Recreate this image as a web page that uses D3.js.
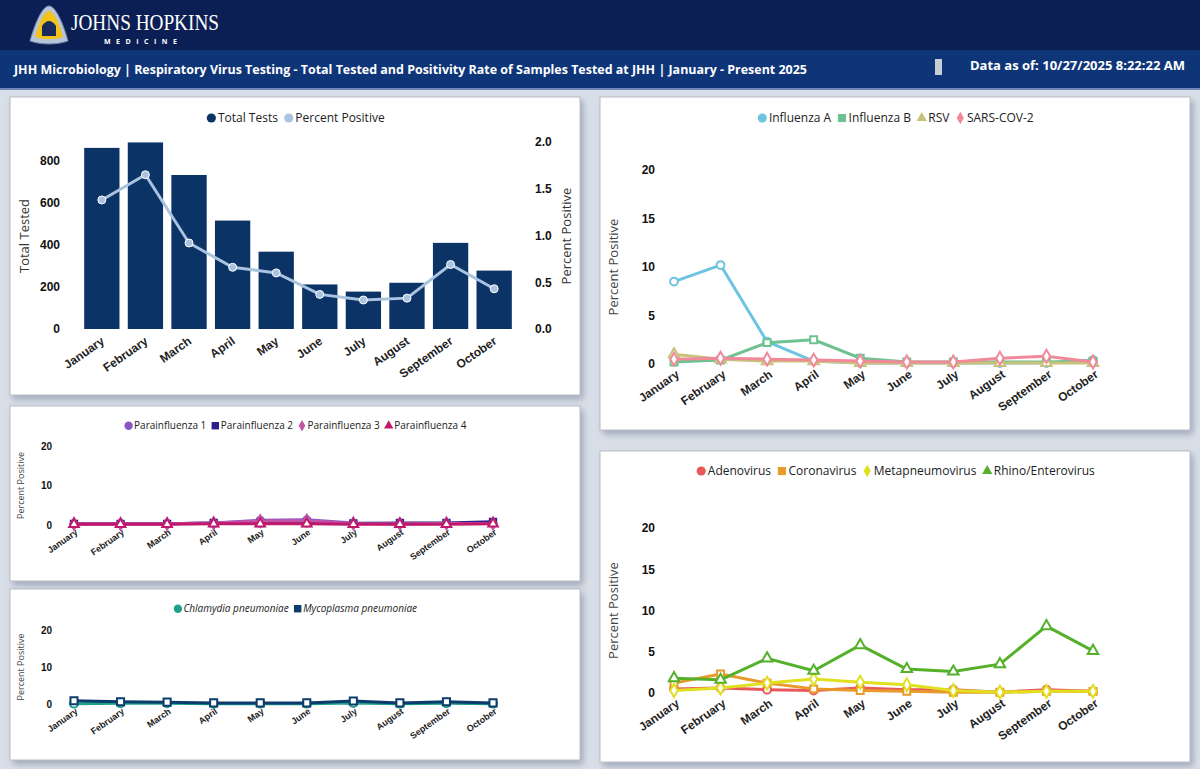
<!DOCTYPE html>
<html><head><meta charset="utf-8">
<script src="https://cdn.jsdelivr.net/npm/d3@7"></script>
<style>body{margin:0;background:#d9dfe8;font-family:"Open Sans",Calibri,sans-serif}svg{display:block}</style>
</head><body><svg id="c" width="1200" height="769"></svg>
<script>
const months=["January","February","March","April","May","June","July","August","September","October"];
const totalTests=[862,888,733,516,368,212,178,220,410,278];
const percentPositive=[1.38,1.65,0.92,0.66,0.60,0.37,0.31,0.33,0.69,0.43];
const fluA=[8.5,10.2,2.3,0.3,0.1,0.1,0.1,0.1,0.1,0.4];
const fluB=[0.2,0.4,2.2,2.5,0.6,0.2,0.2,0.2,0.2,0.3];
const rsv=[1.0,0.5,0.3,0.3,0.1,0.1,0.1,0.1,0.1,0.1];
const sars=[0.5,0.6,0.5,0.4,0.3,0.2,0.2,0.6,0.8,0.2];
const para1=[0.3,0.3,0.3,0.5,1.2,1.3,0.5,0.3,0.4,0.4];
const para2=[0.3,0.3,0.3,0.5,0.5,0.5,0.4,0.5,0.5,0.8];
const para3=[0.3,0.3,0.3,0.5,1.0,1.1,0.4,0.3,0.4,0.4];
const para4=[0.2,0.2,0.2,0.3,0.3,0.3,0.2,0.2,0.2,0.3];
const chlam=[0.1,0.2,0.2,0.1,0.1,0.1,0.3,0.1,0.2,0.1];
const myco=[0.9,0.6,0.5,0.3,0.3,0.3,0.8,0.3,0.6,0.3];
const adeno=[0.5,0.6,0.4,0.3,0.6,0.4,0.4,0.1,0.4,0.2];
const corona=[1.2,2.3,1.2,0.5,0.3,0.2,0.1,0.1,0.2,0.2];
const meta=[0.3,0.6,1.2,1.7,1.3,1.0,0.3,0.1,0.2,0.2];
const rhino=[1.8,1.6,4.2,2.7,5.8,2.9,2.6,3.5,8.1,5.1];
const leftTicks=[0,200,400,600,800], rightTicks=[0,0.5,1.0,1.5,2.0];

const svg=d3.select("#c");
const defs=svg.append("defs");
const f=defs.append("filter").attr("id","sh").attr("x","-5%").attr("y","-5%").attr("width","115%").attr("height","120%");
f.append("feDropShadow").attr("dx",3).attr("dy",4).attr("stdDeviation",3).attr("flood-color","#6a7890").attr("flood-opacity",0.5);
// header
svg.append("rect").attr("width",1200).attr("height",50).attr("fill","#0b1f55");
svg.append("rect").attr("y",50).attr("width",1200).attr("height",38).attr("fill","#0f3579");
svg.append("rect").attr("y",88).attr("width",1200).attr("height",2).attr("fill","#6f88b8");
// logo
const lg=svg.append("g").attr("transform","translate(49,26)");
lg.append("path").attr("d","M0,-20 C8,-20 16,4 19,15 C8,19 -8,19 -19,15 C-16,4 -8,-20 0,-20Z").attr("fill","#b8c4d8").attr("stroke","#6f7f9f");
lg.append("path").attr("d","M0,-15 C6,-15 12,3 14,11 C6,14 -6,14 -14,11 C-12,3 -6,-15 0,-15Z").attr("fill","#f2c31a");
lg.append("path").attr("d","M-7,10 L-7,0 Q0,-10 7,0 L7,10Z").attr("fill","#1a2a5a");
svg.append("text").attr("x",71).attr("y",30).attr("fill","#fff").attr("font-family","Liberation Serif,serif").attr("font-size",24).attr("textLength",148).attr("lengthAdjust","spacingAndGlyphs").text("JOHNS HOPKINS");
svg.append("text").attr("x",104).attr("y",44).attr("fill","#fff").attr("font-size",7).attr("font-weight","bold").attr("letter-spacing",5.5).text("MEDICINE");
svg.append("text").attr("x",14).attr("y",74).attr("fill","#fff").attr("font-size",13).attr("font-weight","bold").attr("textLength",793).attr("lengthAdjust","spacingAndGlyphs").text("JHH Microbiology | Respiratory Virus Testing - Total Tested and Positivity Rate of Samples Tested at JHH | January - Present 2025");
svg.append("rect").attr("x",935).attr("y",59).attr("width",7).attr("height",16).attr("fill","#c8cdd6");
svg.append("text").attr("x",970).attr("y",70).attr("fill","#fff").attr("font-size",13).attr("font-weight","bold").text("Data as of: 10/27/2025 8:22:22 AM");

function panel(x,y,w,h){svg.append("rect").attr("x",x).attr("y",y).attr("width",w).attr("height",h).attr("fill","#fff").attr("stroke","#b8bcc4").attr("filter","url(#sh)");}
function marker(g,shape,size,color,fill){
  const t={circle:d3.symbolCircle,square:d3.symbolSquare,diamond:d3.symbolDiamond,triangle:d3.symbolTriangle}[shape];
  return g.append("path").attr("d",d3.symbol(t,size)()).attr("fill",fill).attr("stroke",color);
}
function legend(cx,y,items,fs,italic){
  const g=svg.append("g");let x=0;
  items.forEach(it=>{const gi=g.append("g").attr("transform",`translate(${x},0)`);
    marker(gi,it.shape,fs*(it.shape==="circle"||it.shape==="square"?5.5:3.8),it.color,it.color).attr("stroke-width",0).attr("transform",`translate(${fs*0.5},${-fs*0.33})`);
    const t=gi.append("text").attr("x",fs*1.05).attr("font-size",fs).attr("fill","#222").attr("font-style",italic?"italic":null).text(it.name);
    x+=fs*1.05+t.node().getComputedTextLength()+fs*0.4;});
  g.attr("transform",`translate(${cx-(x-fs*0.4)/2},${y})`);
}
function rotXAxis(g,fs){g.selectAll(".tick text").attr("transform","rotate(-35)").attr("text-anchor","end").attr("dx","-0.2em").attr("dy","0.6em").attr("font-size",fs).attr("font-weight","bold").attr("fill","#222");}

function lineChart(o){
  panel(o.px,o.py,o.pw,o.ph);
  const x=d3.scalePoint().domain(months).range([o.x0,o.x1]);
  const y=d3.scaleLinear().domain([0,20]).range([o.y0,o.y20]);
  const ga=svg.append("g").attr("transform",`translate(0,${o.y0})`).call(d3.axisBottom(x).tickSize(0).tickPadding(o.tp));
  ga.select(".domain").remove();rotXAxis(ga,o.xfs);
  const gy=svg.append("g").attr("transform",`translate(${o.yax},0)`).call(d3.axisLeft(y).tickValues(o.yt).tickSize(0).tickPadding(0));
  gy.select(".domain").remove();gy.selectAll("text").attr("font-size",o.yfs).attr("font-weight","bold").attr("fill","#111");
  svg.append("text").attr("transform",`translate(${o.tx},${(o.y0+o.y20)/2}) rotate(-90)`).attr("text-anchor","middle").attr("font-size",o.tfs).attr("fill","#444").text("Percent Positive");
  const line=d3.line().x((d,i)=>x(months[i])).y(d=>y(d));
  o.series.forEach(s=>{
    svg.append("path").datum(s.data).attr("d",line).attr("fill","none").attr("stroke",s.color).attr("stroke-width",o.lw).attr("stroke-linejoin","round");
    s.data.forEach((d,i)=>marker(svg.append("g").attr("transform",`translate(${x(months[i])},${y(d)})`),s.shape,o.ms,s.color,"#fff").attr("stroke-width",2));
  });
  legend(o.px+o.pw/2,o.ly,o.series,o.lfs,o.italic);
}

// Panel 1: bars
panel(10,97,570,298);
{
  const x=d3.scaleBand().domain(months).range([82,514]).paddingInner(0.19).paddingOuter(0.05);
  const yl=d3.scaleLinear().domain([0,890]).range([329,142]);
  const yr=d3.scaleLinear().domain([0,2]).range([329,142]);
  svg.append("g").selectAll("rect").data(totalTests).join("rect").attr("x",(d,i)=>x(months[i])).attr("width",x.bandwidth()).attr("y",d=>yl(d)).attr("height",d=>329-yl(d)).attr("fill","#0c3366");
  const ga=svg.append("g").attr("transform","translate(0,334)").call(d3.axisBottom(x).tickSize(0).tickPadding(2));
  ga.select(".domain").remove();rotXAxis(ga,12);
  const gl=svg.append("g").attr("transform","translate(60,0)").call(d3.axisLeft(yl).tickValues(leftTicks).tickSize(0).tickPadding(0));
  gl.select(".domain").remove();gl.selectAll("text").attr("font-size",12).attr("font-weight","bold").attr("fill","#111");
  const gr=svg.append("g").attr("transform","translate(535,0)").call(d3.axisRight(yr).tickValues(rightTicks).tickFormat(d3.format(".1f")).tickSize(0).tickPadding(0));
  gr.select(".domain").remove();gr.selectAll("text").attr("font-size",12).attr("font-weight","bold").attr("fill","#111");
  svg.append("text").attr("transform","translate(29,236) rotate(-90)").attr("text-anchor","middle").attr("font-size",13).attr("fill","#333").text("Total Tested");
  svg.append("text").attr("transform","translate(571,236) rotate(-90)").attr("text-anchor","middle").attr("font-size",13).attr("fill","#333").text("Percent Positive");
  const cx=(d,i)=>x(months[i])+x.bandwidth()/2;
  svg.append("path").datum(percentPositive).attr("d",d3.line().x(cx).y(d=>yr(d))).attr("fill","none").attr("stroke","#a9c3e0").attr("stroke-width",3);
  svg.append("g").selectAll("circle").data(percentPositive).join("circle").attr("cx",cx).attr("cy",d=>yr(d)).attr("r",4).attr("fill","#a9c3e0").attr("stroke","#fff").attr("stroke-width",1);
  legend(295,122,[{name:"Total Tests",shape:"circle",color:"#0c3366"},{name:"Percent Positive",shape:"circle",color:"#a9c3e0"}],12);
}
lineChart({px:10,py:406,pw:570,ph:175,x0:74,x1:493,y0:525,y20:446,yax:52,yt:[0,10,20],tx:24,tfs:9,yfs:10,xfs:9,tp:4,lw:3,ms:40,ly:429,lfs:10,
 series:[{name:"Parainfluenza 1",shape:"circle",color:"#8a55c4",data:para1},{name:"Parainfluenza 2",shape:"square",color:"#2c1e8c",data:para2},
 {name:"Parainfluenza 3",shape:"diamond",color:"#c055a8",data:para3},{name:"Parainfluenza 4",shape:"triangle",color:"#c0186a",data:para4}]});
lineChart({px:10,py:589,pw:570,ph:171,x0:74,x1:493,y0:704,y20:630,yax:52,yt:[0,10,20],tx:24,tfs:9,yfs:10,xfs:9,tp:4,lw:3,ms:50,ly:612,lfs:10,italic:true,
 series:[{name:"Chlamydia pneumoniae",shape:"circle",color:"#1fa08e",data:chlam},{name:"Mycoplasma pneumoniae",shape:"square",color:"#0c3c6c",data:myco}]});
lineChart({px:600,py:97,pw:590,ph:333,x0:674,x1:1093,y0:364,y20:170,yax:655,yt:[0,5,10,15,20],tx:618,tfs:13,yfs:12,xfs:12,tp:6,lw:3,ms:48,ly:122,lfs:12,
 series:[{name:"Influenza A",shape:"circle",color:"#6ec3e0",data:fluA},{name:"Influenza B",shape:"square",color:"#6dc28f",data:fluB},
 {name:"RSV",shape:"triangle",color:"#c9c27a",data:rsv},{name:"SARS-COV-2",shape:"diamond",color:"#f08a9a",data:sars}]});
lineChart({px:600,py:451,pw:590,ph:311,x0:674,x1:1093,y0:693,y20:528,yax:655,yt:[0,5,10,15,20],tx:618,tfs:13,yfs:12,xfs:12,tp:6,lw:3,ms:48,ly:475,lfs:12,
 series:[{name:"Adenovirus",shape:"circle",color:"#e8585a",data:adeno},{name:"Coronavirus",shape:"square",color:"#e89a2a",data:corona},
 {name:"Metapneumovirus",shape:"diamond",color:"#e0e020",data:meta},{name:"Rhino/Enterovirus",shape:"triangle",color:"#55b02a",data:rhino}]});
</script></body></html>
